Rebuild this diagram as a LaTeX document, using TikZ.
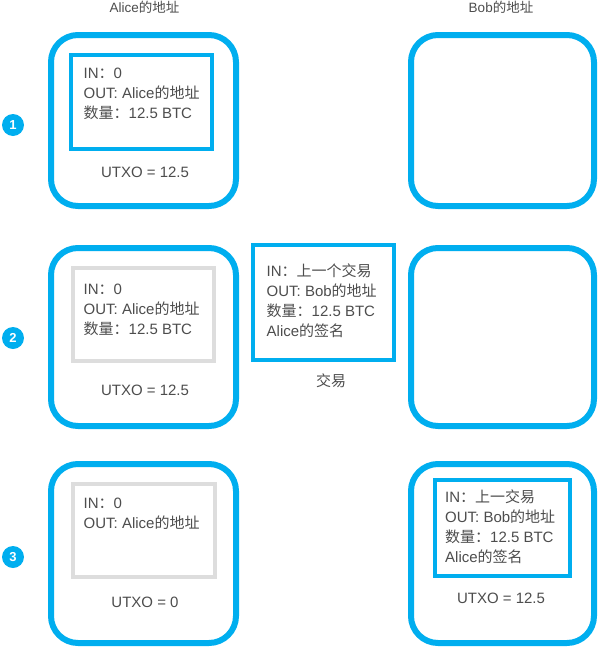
\documentclass[tikz,border=0pt]{standalone}
\usepackage{fontspec}
\setmainfont{Liberation Sans}
\newfontfamily\cjk{Noto Sans CJK SC}
\newcommand{\zh}[1]{{\cjk #1}}
\definecolor{bblue}{HTML}{00AEEF}
\definecolor{lgray}{HTML}{DDDDDD}
\definecolor{txt}{HTML}{4D4D4D}
\tikzset{
  outerbox/.style={draw=bblue, line width=6pt, rounded corners=27pt, inner sep=0pt, outer sep=0pt, fill=white},
  bluebox/.style={draw=bblue, line width=4pt, inner sep=0pt, outer sep=0pt},
  graybox/.style={draw=lgray, line width=4pt, inner sep=0pt, outer sep=0pt},
  txtline/.style={anchor=base west, inner sep=0pt, font=\fontsize{15}{18}\selectfont, text=txt},
  ctrline/.style={anchor=base, inner sep=0pt, font=\fontsize{15}{18}\selectfont, text=txt},
  header/.style={anchor=base, inner sep=0pt, font=\fontsize{13.5}{16}\selectfont, text=txt},
  numdot/.style={circle, fill=bblue, minimum size=22pt, inner sep=0pt, text=white, font=\bfseries\fontsize{13}{13}\selectfont}
}
\begin{document}
\begin{tikzpicture}[x=1pt, y=-1pt]
\useasboundingbox (0,0) rectangle (600,651);

% headers
\node[header] (hA) at (144.5,12.5) {Alice\zh{的地址}};
\node[header] (hB) at (501,12.5) {Bob\zh{的地址}};

% step numbers
\node[numdot] (n1) at (13,125) {1};
\node[numdot] (n2) at (13,338) {2};
\node[numdot] (n3) at (13,557) {3};

% outer address boxes
\node[outerbox, minimum width=185pt, minimum height=171pt] (a1) at (143.5,120.5) {};
\node[outerbox, minimum width=183pt, minimum height=171pt] (b1) at (502.5,120.5) {};
\node[outerbox, minimum width=185pt, minimum height=178pt] (a2) at (143.5,337) {};
\node[outerbox, minimum width=183pt, minimum height=178pt] (b2) at (502.5,337) {};
\node[outerbox, minimum width=185pt, minimum height=179pt] (a3) at (143.5,553.5) {};
\node[outerbox, minimum width=183pt, minimum height=179pt] (b3) at (502.5,553.5) {};

% inner boxes
\node[bluebox, minimum width=141pt, minimum height=94pt] (ia1) at (141.5,102) {};
\node[graybox, minimum width=141pt, minimum height=93pt] (ia2) at (143.5,314.5) {};
\node[graybox, minimum width=142pt, minimum height=93pt] (ia3) at (144,530.5) {};
\node[bluebox, minimum width=141pt, minimum height=115pt] (tx) at (323.5,302.5) {};
\node[bluebox, minimum width=135pt, minimum height=96pt] (ib3) at (502.5,528) {};

% row 1 texts
\node[txtline] (t1a) at (83.5,78) {IN\zh{：}0};
\node[txtline] (t1b) at (83.5,98) {OUT: Alice\zh{的地址}};
\node[txtline] (t1c) at (83.5,118) {\zh{数量：}12.5 BTC};
\node[ctrline] (u1) at (145,177) {UTXO = 12.5};

% row 2 texts
\node[txtline] (t2a) at (83.5,294) {IN\zh{：}0};
\node[txtline] (t2b) at (83.5,314) {OUT: Alice\zh{的地址}};
\node[txtline] (t2c) at (83.5,334) {\zh{数量：}12.5 BTC};
\node[ctrline] (u2) at (145,395) {UTXO = 12.5};

% transaction
\node[txtline] (x1) at (266.5,276) {IN\zh{：上一个交易}};
\node[txtline] (x2) at (266.5,296) {OUT: Bob\zh{的地址}};
\node[txtline] (x3) at (266.5,316) {\zh{数量：}12.5 BTC};
\node[txtline] (x4) at (266.5,336) {Alice\zh{的签名}};
\node[ctrline] (xl) at (331,386) {\zh{交易}};

% row 3 texts
\node[txtline] (t3a) at (83.5,508) {IN\zh{：}0};
\node[txtline] (t3b) at (83.5,528) {OUT: Alice\zh{的地址}};
\node[ctrline] (u3) at (145,607) {UTXO = 0};

\node[txtline] (s1) at (445,502) {IN\zh{：上一交易}};
\node[txtline] (s2) at (445,522) {OUT: Bob\zh{的地址}};
\node[txtline] (s3) at (445,542) {\zh{数量：}12.5 BTC};
\node[txtline] (s4) at (445,562) {Alice\zh{的签名}};
\node[ctrline] (u4) at (501,603) {UTXO = 12.5};
\end{tikzpicture}
\end{document}
